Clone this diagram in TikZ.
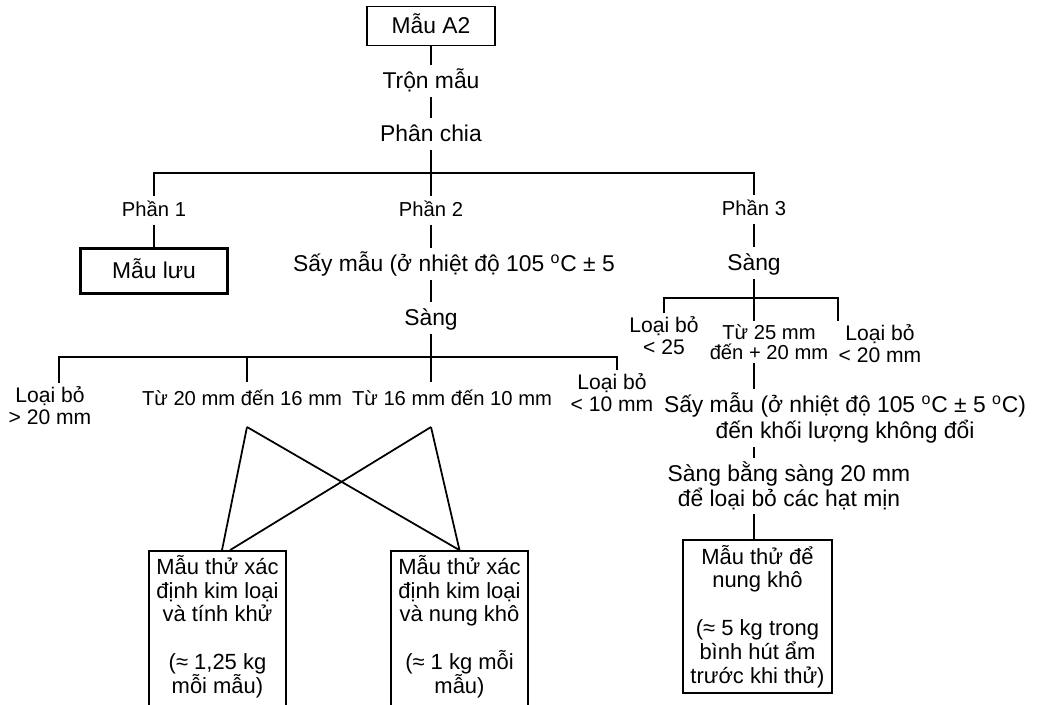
\documentclass[tikz,border=0pt]{standalone}
\usepackage{fontspec}
\setmainfont{Liberation Sans}
\usetikzlibrary{calc}
\tikzset{
  flow txt/.style={font=\fontsize{13}{15.5}\selectfont, inner sep=1.5pt, text height=11pt, text depth=3pt},
  flow part/.style={flow txt, font=\fontsize{11.5}{13}\selectfont, text height=10pt, text depth=2.5pt},
  flow two/.style={align=center, inner sep=1.5pt, font=\fontsize{12}{12.5}\selectfont},
  flow box/.style={draw, line width=1pt, align=center, font=\fontsize{12.5}{13.6}\selectfont, inner sep=2pt},
  flow top/.style={flow box, font=\fontsize{13}{15}\selectfont, text height=11pt, text depth=3pt}
}
\begin{document}
\begin{tikzpicture}[x=0.02cm, y=-0.02cm, line width=1pt]
\useasboundingbox (0,0) rectangle (1039,704);
% trunk
\node[flow top, minimum width=2.56cm, minimum height=0.78cm] (a2) at (431,26) {Mẫu A2};
\node[flow txt] (tron) at (431,81) {Trộn mẫu};
\node[flow txt] (chia) at (431,134) {Phân chia};
\coordinate (j1) at (431,173);
\node[flow part] (p1) at (154,210) {Phần 1};
\node[flow part] (p2) at (431,210) {Phần 2};
\node[flow part] (p3) at (754,209) {Phần 3};
% part 1
\node[flow top, line width=1.4pt, minimum width=2.94cm, minimum height=0.9cm] (luu) at (154,271) {Mẫu lưu};
% part 2
\node[flow txt] (say2) at (454,264) {Sấy mẫu (ở nhiệt độ 105 \textsuperscript{o}C ± 5};
\node[flow txt] (sang2) at (431,318) {Sàng};
\coordinate (j2) at (431,357);
\node[flow two] (lb20) at (50,406) {Loại bỏ\\> 20 mm};
\node[flow txt, font=\fontsize{11.5}{13}\selectfont] (t20) at (242,398) {Từ 20 mm đến 16 mm};
\node[flow txt, font=\fontsize{11.5}{13}\selectfont] (t16) at (452,398) {Từ 16 mm đến 10 mm};
\node[flow two] (lb10) at (612,393) {Loại bỏ\\< 10 mm};
\coordinate (ap1) at (247,427);
\coordinate (ap2) at (431,427);
% the two lower boxes run past the bottom edge
\node[flow box, minimum width=2.74cm, minimum height=3.22cm] (kA) at (217.5,631.5) {Mẫu thử xác\\định kim loại\\và tính khử\\[\baselineskip](≈ 1,25 kg\\mỗi mẫu)\\[-0.4\baselineskip]\mbox{}};
\node[flow box, minimum width=2.74cm, minimum height=3.22cm] (kB) at (459.5,631.5) {Mẫu thử xác\\định kim loại\\và nung khô\\[\baselineskip](≈ 1 kg mỗi\\mẫu)\\[-0.4\baselineskip]\mbox{}};
% part 3
\node[flow txt] (sang3) at (754,263) {Sàng};
\coordinate (j3) at (754,298);
\node[flow two] (lb25) at (664,336) {Loại bỏ\\< 25};
\node[flow two, font=\fontsize{11.5}{11.5}\selectfont] (t25) at (769,342) {Từ 25 mm\\đến + 20 mm};
\node[flow two] (lb20r) at (880,344) {Loại bỏ\\< 20 mm};
\node[flow two, font=\fontsize{13}{15.3}\selectfont] (say3) at (845,418) {Sấy mẫu (ở nhiệt độ 105 \textsuperscript{o}C ± 5 \textsuperscript{o}C)\\đến khối lượng không đổi};
\node[flow two, font=\fontsize{13}{14.2}\selectfont] (sb) at (789,486) {Sàng bằng sàng 20 mm\\để loại bỏ các hạt mịn};
\node[flow box, minimum width=2.98cm, minimum height=3.06cm] (kC) at (757.5,616.5) {Mẫu thử để\\nung khô\\[\baselineskip](≈ 5 kg trong\\bình hút ẩm\\trước khi thử)};

\draw (a2) -- (tron);
\draw (tron) -- (chia);
\draw (chia) -- (p2);
\draw (p1) |- (j1) -| (p3);
\draw (p1) -- (luu);
\draw (p2) -- (p2 |- say2.north);
\draw (p2 |- say2.south) -- (sang2);
\draw (sang2) -- (ap2 |- t16.north);
\draw ([xshift=0.18cm]lb20.north) |- (j2) -| ([xshift=0.1cm]lb10.north);
\draw (ap1 |- j2) -- (ap1 |- t20.north);
\draw (ap1) -- ([xshift=0.09cm]kA.north);
\draw (ap1) -- (kB.north);
\draw (ap2) -- ([xshift=0.25cm]kA.north);
\draw (ap2) -- (kB.north);
\draw (p3) -- (sang3);
\draw (sang3) -- (sang3 |- t25.north);
\draw (lb25.north) |- (j3) -| ([xshift=0.05cm]lb20r.north west);
\draw (sang3 |- t25.south) -- (sang3 |- say3.north);
\draw (sang3 |- say3.south) -- (sang3 |- sb.north);
\draw (sang3 |- sb.south) -- (sang3 |- kC.north);
\end{tikzpicture}
\end{document}
